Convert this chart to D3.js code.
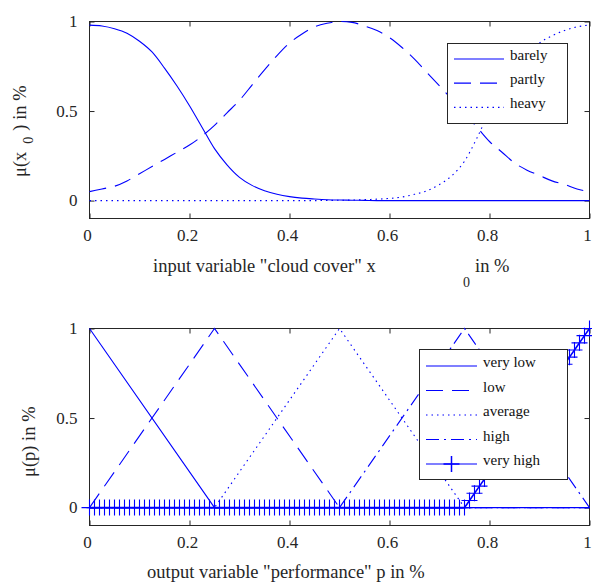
<!DOCTYPE html>
<html>
<head>
<meta charset="utf-8">
<script src="https://cdn.jsdelivr.net/npm/d3@7"></script>
<style>
  body { margin: 0; background: #fff; }
  svg { display: block; font-family: "Liberation Serif", "Times New Roman", serif; }
</style>
</head>
<body>
<div id="chart"></div>
<script>
// top panel: membership of "cloud cover", sampled every 0.025
var cloudX = d3.range(0, 41).map(function (i) { return i / 40; });
var barely = [0.98, 0.975, 0.96, 0.935, 0.89, 0.83, 0.74, 0.64, 0.53, 0.41,
              0.29, 0.2, 0.13, 0.085, 0.055, 0.035, 0.022, 0.014, 0.009, 0.005,
              0.003, 0.002, 0.001, 0, 0, 0, 0, 0, 0, 0,
              0, 0, 0, 0, 0, 0, 0, 0, 0, 0, 0];
var partly = [0.05, 0.065, 0.08, 0.11, 0.15, 0.19, 0.23, 0.27, 0.31, 0.36,
              0.42, 0.49, 0.56, 0.645, 0.73, 0.81, 0.88, 0.93, 0.97, 0.99,
              1.0, 0.995, 0.975, 0.95, 0.91, 0.855, 0.79, 0.715, 0.64, 0.565,
              0.49, 0.41, 0.33, 0.27, 0.21, 0.17, 0.14, 0.11, 0.09, 0.065, 0.05];
var heavy  = [0, 0, 0, 0, 0, 0, 0, 0, 0, 0,
              0, 0, 0, 0, 0, 0, 0, 0, 0, 0.001,
              0.002, 0.003, 0.005, 0.008, 0.012, 0.02, 0.035, 0.055, 0.09, 0.14,
              0.22, 0.35, 0.5, 0.63, 0.74, 0.82, 0.88, 0.92, 0.95, 0.97, 0.98];
var cloudNames = ["barely", "partly", "heavy"];

// bottom panel: membership of "performance"
var perfX = [0, 0.25, 0.5, 0.75, 1];
var veryLow = [1, 0, 0, 0, 0];
var low     = [0, 1, 0, 0, 0];
var average = [0, 0, 1, 0, 0];
var high    = [0, 0, 0, 1, 0];
var perfGrid = d3.range(0, 101).map(function (i) { return i / 100; });
var veryHigh = [0, 0, 0, 0, 0, 0, 0, 0, 0, 0, 0, 0, 0, 0, 0, 0, 0, 0, 0,
                0, 0, 0, 0, 0, 0, 0, 0, 0, 0, 0, 0, 0, 0, 0, 0, 0, 0, 0,
                0, 0, 0, 0, 0, 0, 0, 0, 0, 0, 0, 0, 0, 0, 0, 0, 0, 0, 0,
                0, 0, 0, 0, 0, 0, 0, 0, 0, 0, 0, 0, 0, 0, 0, 0, 0, 0, 0,
                0.04, 0.08, 0.12, 0.16, 0.2, 0.24, 0.28, 0.32, 0.36, 0.4, 0.44, 0.48,
                0.52, 0.56, 0.6, 0.64, 0.68, 0.72, 0.76, 0.8, 0.84, 0.88, 0.92, 0.96, 1];
var perfNames = ["very low", "low", "average", "high", "very high"];

var xTicks = [0, 0.2, 0.4, 0.6, 0.8, 1];
var yTicks = [0, 0.5, 1];

var blue = "#0000ff",
    ink = "#262626",
    serif = "'Liberation Serif', 'Times New Roman', serif",
    width = 592,
    height = 583;

var svg = d3.select("#chart").append("svg")
    .attr("width", width)
    .attr("height", height);

function fmt(d) { return d3.format("~g")(d); }

function panel(top, bottom) {
    var x = d3.scaleLinear().domain([0, 1]).range([89.5, 589.5]),
        y = d3.scaleLinear().domain([-0.1, 1]).range([bottom, top]),
        g = svg.append("g");

    var xb = g.append("g").attr("transform", "translate(0," + bottom + ")")
        .call(d3.axisBottom(x).tickValues(xTicks).tickSize(-5).tickFormat(fmt));
    g.append("g").attr("transform", "translate(0," + top + ")")
        .call(d3.axisTop(x).tickValues(xTicks).tickSize(-5).tickFormat(""));
    var yl = g.append("g").attr("transform", "translate(89.5,0)")
        .call(d3.axisLeft(y).tickValues(yTicks).tickSize(-5).tickFormat(fmt));
    g.append("g").attr("transform", "translate(589.5,0)")
        .call(d3.axisRight(y).tickValues(yTicks).tickSize(-5).tickFormat(""));

    g.selectAll(".domain").remove();
    g.selectAll(".tick line").attr("stroke", ink);
    g.selectAll(".tick text")
        .attr("fill", ink)
        .style("font-family", serif)
        .style("font-size", "17px");

    // tick labels sit a little left of the tick, baseline 22px below the box
    xb.selectAll(".tick text").attr("x", -2.5).attr("y", 22).attr("dy", null);
    yl.selectAll(".tick text").attr("x", -12).attr("dy", "0.3em");

    g.append("rect")
        .attr("x", 89.5).attr("y", top)
        .attr("width", 500).attr("height", bottom - top)
        .attr("fill", "none").attr("stroke", ink);

    return {g: g, x: x, y: y};
}

function legend(items, box, lineX, textX, y0, step) {
    var lg = svg.append("g");
    lg.append("rect")
        .attr("x", box[0]).attr("y", box[1])
        .attr("width", box[2]).attr("height", box[3])
        .attr("fill", "#fff").attr("stroke", ink);
    var row = lg.selectAll("g.row").data(items).enter().append("g")
        .attr("class", "row")
        .attr("transform", function (d, i) { return "translate(0," + (y0 + i * step) + ")"; });
    row.append("line")
        .attr("x1", lineX[0]).attr("x2", lineX[1])
        .attr("stroke", blue)
        .attr("stroke-width", 1.2)
        .attr("stroke-dasharray", function (d) { return d.dash; });
    row.filter(function (d) { return d.marker; }).append("path")
        .attr("d", "M-8,0H8M0,-8V8")
        .attr("transform", "translate(" + ((lineX[0] + lineX[1]) / 2) + ",0)")
        .attr("stroke", blue).attr("stroke-width", 1.5);
    row.append("text")
        .attr("x", textX).attr("y", 1)
        .attr("fill", "#111")
        .style("font-size", "15px")
        .text(function (d) { return d.name; });
}

// ---- top panel
var p1 = panel(21.5, 218.5);

var cloudSeries = [
    {name: cloudNames[0], values: barely, dash: null},
    {name: cloudNames[1], values: partly, dash: "17,9"},
    {name: cloudNames[2], values: heavy, dash: "1.5,4"}
];
var line1 = d3.line()
    .x(function (d) { return p1.x(d[0]); })
    .y(function (d) { return p1.y(d[1]); })
    .curve(d3.curveMonotoneX);

p1.g.selectAll("path.series").data(cloudSeries).enter().append("path")
    .attr("class", "series")
    .attr("fill", "none")
    .attr("stroke", blue)
    .attr("stroke-width", 1.1)
    .attr("stroke-dasharray", function (d) { return d.dash; })
    .attr("d", function (d) { return line1(d3.zip(cloudX, d.values)); });

legend(cloudSeries, [447.5, 43.5, 120, 80], [454, 504], 510, 59, 24.2);

svg.append("text").attr("x", 153).attr("y", 272)
    .attr("fill", ink).style("font-size", "18.5px")
    .text("input variable \"cloud cover\" x");
svg.append("text").attr("x", 463).attr("y", 287)
    .attr("fill", ink).style("font-size", "14px").text("0");
svg.append("text").attr("x", 475).attr("y", 272)
    .attr("fill", ink).style("font-size", "18.5px").text("in %");

var yl1 = svg.append("text")
    .attr("transform", "translate(26,177) rotate(-90)")
    .attr("fill", ink).style("font-size", "18.5px");
yl1.append("tspan").text("\u03bc(x");
yl1.append("tspan").attr("dx", 8).attr("dy", 7).style("font-size", "14px").text("0");
yl1.append("tspan").attr("dx", 6).attr("dy", -7).text(") in %");

// ---- bottom panel
var p2 = panel(328.5, 525.5);

var perfSeries = [
    {name: perfNames[0], values: veryLow, dash: null},
    {name: perfNames[1], values: low, dash: "17,9"},
    {name: perfNames[2], values: average, dash: "1.5,4"},
    {name: perfNames[3], values: high, dash: "13,5,2,5"}
];
var line2 = d3.line()
    .x(function (d) { return p2.x(d[0]); })
    .y(function (d) { return p2.y(d[1]); });

p2.g.selectAll("path.series").data(perfSeries).enter().append("path")
    .attr("class", "series")
    .attr("fill", "none")
    .attr("stroke", blue)
    .attr("stroke-width", 1.1)
    .attr("stroke-dasharray", function (d) { return d.dash; })
    .attr("d", function (d) { return line2(d3.zip(perfX, d.values)); });

var vh = d3.zip(perfGrid, veryHigh);
p2.g.append("path")
    .attr("fill", "none")
    .attr("stroke", blue)
    .attr("stroke-width", 1.6)
    .attr("d", line2(vh));
p2.g.selectAll("path.mark").data(vh).enter().append("path")
    .attr("class", "mark")
    .attr("d", "M-8,0H8M0,-8V8")
    .attr("transform", function (d) { return "translate(" + p2.x(d[0]) + "," + p2.y(d[1]) + ")"; })
    .attr("stroke", blue)
    .attr("stroke-width", 1.1);

legend(perfSeries.concat([{name: perfNames[4], dash: null, marker: true}]),
    [419.5, 349.5, 148, 130], [426, 477], 483, 366, 24.5);

svg.append("text").attr("x", 147).attr("y", 578)
    .attr("fill", ink).style("font-size", "18.5px")
    .text("output variable \"performance\" p in %");

svg.append("text")
    .attr("transform", "translate(35,477) rotate(-90)")
    .attr("fill", ink).style("font-size", "18.5px")
    .text("\u03bc(p) in %");
</script>
</body>
</html>
